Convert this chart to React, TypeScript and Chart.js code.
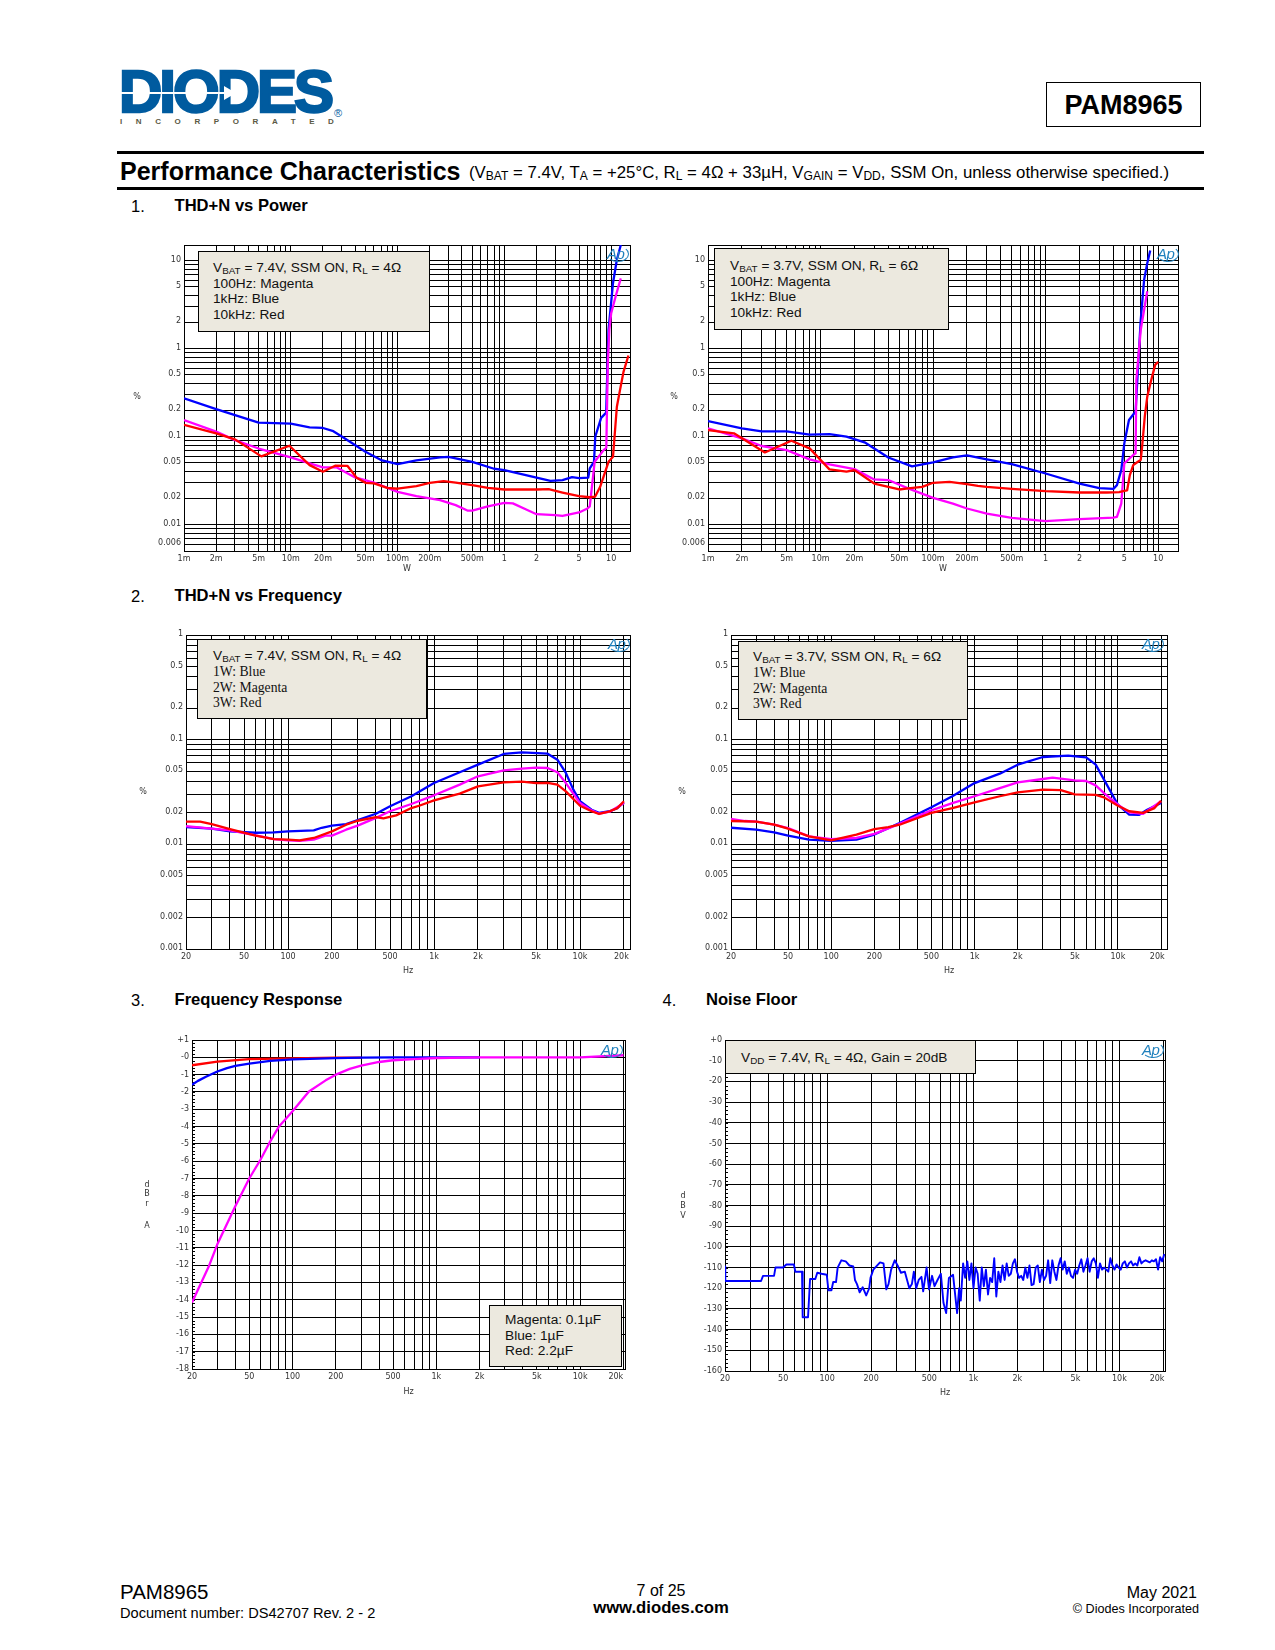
import React, { useEffect, useRef } from "react";
import { Chart, registerables } from "chart.js";

Chart.register(...registerables);

// ---------- tick labels ----------
const POWER_TICK_VALUES = [0.001, 0.002, 0.005, 0.01, 0.02, 0.05, 0.1, 0.2, 0.5, 1, 2, 5, 10];
const POWER_TICK_LABELS = ["1m", "2m", "5m", "10m", "20m", "50m", "100m", "200m", "500m", "1", "2", "5", "10"];
const FREQ_TICK_VALUES = [20, 50, 100, 200, 500, 1000, 2000, 5000, 10000, 20000];
const FREQ_TICK_LABELS = ["20", "50", "100", "200", "500", "1k", "2k", "5k", "10k", "20k"];
const THD_POWER_Y_VALUES = [10, 5, 2, 1, 0.5, 0.2, 0.1, 0.05, 0.02, 0.01, 0.006];
const THD_POWER_Y_LABELS = ["10", "5", "2", "1", "0.5", "0.2", "0.1", "0.05", "0.02", "0.01", "0.006"];
const THD_FREQ_Y_VALUES = [1, 0.5, 0.2, 0.1, 0.05, 0.02, 0.01, 0.005, 0.002, 0.001];
const THD_FREQ_Y_LABELS = ["1", "0.5", "0.2", "0.1", "0.05", "0.02", "0.01", "0.005", "0.002", "0.001"];
const RESP_Y_VALUES = [1, 0, -1, -2, -3, -4, -5, -6, -7, -8, -9, -10, -11, -12, -13, -14, -15, -16, -17, -18];
const RESP_Y_LABELS = ["+1", "-0", "-1", "-2", "-3", "-4", "-5", "-6", "-7", "-8", "-9", "-10", "-11", "-12", "-13", "-14", "-15", "-16", "-17", "-18"];
const NOISE_Y_VALUES = [0, -10, -20, -30, -40, -50, -60, -70, -80, -90, -100, -110, -120, -130, -140, -150, -160];
const NOISE_Y_LABELS = ["+0", "-10", "-20", "-30", "-40", "-50", "-60", "-70", "-80", "-90", "-100", "-110", "-120", "-130", "-140", "-150", "-160"];

// ---------- chart 1: THD+N vs power, 7.4V ----------
const C1_BLUE_W = [0.001, 0.002, 0.005, 0.01, 0.015, 0.02, 0.025, 0.03, 0.05, 0.07, 0.1, 0.15, 0.25, 0.3, 0.5, 0.8, 1, 2, 2.7, 3.5, 4.3, 5, 6.1, 6.3, 6.9, 7.1, 8.05, 8.97, 9.44, 10.4, 11.3, 12.3];
const C1_BLUE_PCT = [0.272, 0.205, 0.1436, 0.14, 0.127, 0.125, 0.115, 0.1, 0.067, 0.054, 0.0485, 0.0537, 0.0578, 0.0587, 0.0516, 0.043, 0.0415, 0.034, 0.0314, 0.032, 0.0345, 0.0337, 0.0341, 0.0435, 0.0516, 0.1, 0.163, 0.187, 1.63, 5.55, 10.2, 15];
const C1_MAGENTA_W = [0.001, 0.002, 0.003, 0.005, 0.01, 0.015, 0.02, 0.027, 0.04, 0.06, 0.1, 0.15, 0.25, 0.35, 0.45, 0.5, 0.7, 1, 1.2, 1.6, 2, 3, 3.5, 5, 6, 6.3, 6.6, 7, 8.5, 9, 9.3, 9.6, 10, 11, 12.3];
const C1_MAGENTA_PCT = [0.154, 0.1135, 0.091, 0.073, 0.0578, 0.0494, 0.0445, 0.0445, 0.0343, 0.03, 0.0235, 0.021, 0.0189, 0.0166, 0.0144, 0.0144, 0.0161, 0.0176, 0.0174, 0.0148, 0.0131, 0.0128, 0.0125, 0.0137, 0.0152, 0.0161, 0.0268, 0.0516, 0.0701, 0.0745, 0.68, 1.63, 2.52, 3.9, 6.27];
const C1_RED_W = [0.001, 0.002, 0.003, 0.0053, 0.0097, 0.015, 0.02, 0.026, 0.034, 0.0413, 0.05, 0.06, 0.08, 0.1, 0.15, 0.2, 0.27, 0.35, 0.5, 0.7, 1, 2, 2.6, 3.5, 5, 6.3, 7.08, 7.88, 9.44, 10.4, 11.3, 12.1, 13.06, 14.5];
const C1_RED_PCT = [0.136, 0.1086, 0.0927, 0.0595, 0.0785, 0.0473, 0.0398, 0.0465, 0.0463, 0.034, 0.0298, 0.0293, 0.0261, 0.0255, 0.0273, 0.0298, 0.0311, 0.03, 0.028, 0.0261, 0.025, 0.025, 0.0252, 0.0231, 0.021, 0.0204, 0.0208, 0.0268, 0.0516, 0.0589, 0.218, 0.339, 0.547, 0.832];

// ---------- chart 2: THD+N vs power, 3.7V ----------
const C2_BLUE_W = [0.001, 0.002, 0.003, 0.005, 0.008, 0.012, 0.017, 0.025, 0.04, 0.065, 0.1, 0.15, 0.2, 0.3, 0.5, 1, 2, 3, 4, 4.3, 4.7, 5, 5.5, 6.3, 6.6, 7, 7.5, 8, 8.5];
const C2_BLUE_PCT = [0.15, 0.124, 0.1145, 0.1145, 0.105, 0.1065, 0.0995, 0.085, 0.0578, 0.0457, 0.0507, 0.0578, 0.061, 0.055, 0.0485, 0.038, 0.0292, 0.0259, 0.0254, 0.028, 0.0415, 0.0835, 0.154, 0.192, 0.571, 2.12, 6.05, 9.33, 13];
const C2_MAGENTA_W = [0.001, 0.002, 0.003, 0.005, 0.008, 0.012, 0.02, 0.03, 0.04, 0.06, 0.1, 0.15, 0.2, 0.3, 0.5, 1, 2, 4, 4.3, 4.7, 5, 6, 6.3, 6.4, 7, 8];
const C2_MAGENTA_PCT = [0.124, 0.0953, 0.078, 0.0701, 0.055, 0.0482, 0.0426, 0.0325, 0.032, 0.0257, 0.0201, 0.0173, 0.0152, 0.0133, 0.0119, 0.0109, 0.0115, 0.012, 0.0122, 0.0173, 0.0494, 0.0616, 0.0643, 0.44, 1.63, 4.47];
const C2_RED_W = [0.001, 0.0017, 0.0032, 0.0055, 0.008, 0.012, 0.017, 0.02, 0.03, 0.05, 0.06, 0.08, 0.1, 0.14, 0.2, 0.25, 0.3, 0.5, 1, 2, 3.5, 4.5, 5, 5.3, 5.6, 6, 6.6, 7, 7.2, 7.6, 8, 8.6, 9.4, 10];
const C2_RED_PCT = [0.1185, 0.1086, 0.0659, 0.0895, 0.0733, 0.0423, 0.0398, 0.0415, 0.0292, 0.025, 0.0257, 0.0268, 0.0298, 0.0305, 0.0288, 0.0275, 0.0268, 0.0254, 0.0239, 0.0231, 0.0231, 0.0233, 0.0241, 0.0245, 0.0364, 0.0473, 0.0516, 0.0543, 0.0766, 0.168, 0.284, 0.42, 0.652, 0.705];

// ---------- chart 3: THD+N vs frequency, 7.4V ----------
const C3_BLUE_HZ = [20, 30, 40, 60, 80, 100, 150, 170, 200, 250, 300, 400, 500, 700, 1000, 1500, 2000, 3000, 4000, 6000, 7000, 8000, 9000, 10000, 12000, 13500, 16000, 18000, 20000];
const C3_BLUE_PCT = [0.01465, 0.0141, 0.0133, 0.0129, 0.013, 0.0133, 0.0136, 0.0144, 0.0151, 0.0156, 0.017, 0.0196, 0.0231, 0.0288, 0.0385, 0.0488, 0.0577, 0.073, 0.0757, 0.0735, 0.0644, 0.0481, 0.0333, 0.0258, 0.0214, 0.02, 0.0207, 0.0222, 0.0252];
const C3_MAGENTA_HZ = [20, 30, 40, 60, 80, 100, 120, 150, 180, 200, 250, 300, 400, 500, 700, 1000, 1500, 2000, 3000, 4000, 5000, 6000, 7000, 8000, 10000, 12000, 13500, 16000, 20000];
const C3_MAGENTA_PCT = [0.0149, 0.0141, 0.0136, 0.0122, 0.0112, 0.0109, 0.0108, 0.0111, 0.0121, 0.0121, 0.0138, 0.0151, 0.0179, 0.0207, 0.0243, 0.0294, 0.0372, 0.0447, 0.0509, 0.0528, 0.054, 0.0536, 0.0488, 0.0385, 0.0248, 0.0211, 0.0196, 0.0205, 0.0248];
const C3_RED_HZ = [20, 25, 30, 40, 60, 80, 100, 120, 150, 200, 250, 300, 400, 450, 550, 700, 800, 1000, 1500, 2000, 3000, 4000, 5000, 6000, 7000, 8000, 10000, 12000, 13500, 16000, 18000, 20000];
const C3_RED_PCT = [0.0165, 0.0165, 0.0156, 0.014, 0.0121, 0.0112, 0.0111, 0.0109, 0.0115, 0.0133, 0.0154, 0.0168, 0.0182, 0.0177, 0.0189, 0.0222, 0.0235, 0.0263, 0.0305, 0.0358, 0.0391, 0.0397, 0.0385, 0.0387, 0.0372, 0.0321, 0.0234, 0.0207, 0.0195, 0.0207, 0.0222, 0.0258];

// ---------- chart 4: THD+N vs frequency, 3.7V ----------
const C4_BLUE_HZ = [20, 30, 40, 50, 70, 100, 150, 200, 300, 500, 700, 1000, 1500, 2000, 3000, 4500, 6000, 7000, 8000, 10000, 12000, 14000, 16000, 20000];
const C4_BLUE_PCT = [0.0144, 0.0138, 0.013, 0.0121, 0.0111, 0.0108, 0.0111, 0.0124, 0.016, 0.0226, 0.0288, 0.0385, 0.0473, 0.0577, 0.0683, 0.0703, 0.0677, 0.0577, 0.0415, 0.0239, 0.0192, 0.0191, 0.0214, 0.0248];
const C4_MAGENTA_HZ = [20, 25, 30, 40, 50, 70, 100, 150, 200, 300, 500, 700, 1000, 1500, 2000, 3000, 3500, 5000, 6000, 7000, 8000, 10000, 12000, 15000, 20000];
const C4_MAGENTA_PCT = [0.0175, 0.0167, 0.0165, 0.0154, 0.0143, 0.0119, 0.0112, 0.0115, 0.0126, 0.0157, 0.0211, 0.0248, 0.0288, 0.0345, 0.0391, 0.0421, 0.0433, 0.0408, 0.0403, 0.0366, 0.0309, 0.0239, 0.0202, 0.0196, 0.0258];
const C4_RED_HZ = [20, 30, 40, 50, 70, 100, 150, 200, 250, 300, 500, 700, 1000, 1500, 2000, 3000, 4000, 5000, 7000, 8000, 10000, 12000, 15000, 18000, 20000];
const C4_RED_PCT = [0.0167, 0.0165, 0.0154, 0.0141, 0.0119, 0.0109, 0.0124, 0.014, 0.0146, 0.0154, 0.02, 0.0222, 0.0252, 0.0288, 0.0314, 0.0333, 0.0329, 0.03, 0.0297, 0.0281, 0.0234, 0.0207, 0.02, 0.0222, 0.0261];

// ---------- chart 5: frequency response ----------
const C5_RED_HZ = [20, 30, 50, 100, 200, 300];
const C5_RED_DB = [-0.46, -0.25, -0.1, -0.06, -0.02, -0.02];
const C5_BLUE_HZ = [20, 22, 25, 30, 35, 40, 50, 70, 100, 200, 300, 500, 2000];
const C5_BLUE_DB = [-1.58, -1.36, -1.12, -0.82, -0.62, -0.5, -0.36, -0.2, -0.12, -0.05, -0.02, 0, 0];
const C5_MAGENTA_HZ = [20, 26.1, 30, 40, 50, 60, 70, 80, 100, 130, 170, 200, 250, 300, 400, 500, 700, 1000, 2000, 10000, 20000];
const C5_MAGENTA_DB = [-14.16, -12.1, -10.8, -8.6, -7, -5.9, -4.85, -4.03, -3.12, -1.97, -1.33, -1, -0.67, -0.48, -0.27, -0.17, -0.1, -0.04, 0, 0, 0.12];

// ---------- chart 6: noise floor ----------
const C6_LOW_HZ = [20, 20.1, 35.3, 36.4, 43.3, 44.3, 49.9, 52.6, 59.2, 60.6, 67.3, 68, 74, 76.4, 83, 85.6, 91.5, 99.4, 102, 107, 110, 115, 118, 125, 134, 142, 151, 155, 160, 167, 175, 185, 194, 198, 207, 230, 243, 254, 263, 274, 290, 306, 320, 340, 365, 380, 392, 407, 423, 442, 454, 479, 498, 522, 543, 569, 600, 625, 652, 681, 727, 775, 800, 821];
const C6_LOW_DB = [-109.5, -116.5, -116.5, -114, -114, -110, -110, -108.5, -108.5, -112, -112, -134, -134, -115.5, -115.5, -112.5, -113, -113.5, -121, -121, -117, -117, -110, -106.5, -107, -109, -109.5, -116, -118, -122, -119.5, -123.5, -120, -115, -111, -107.5, -108, -120.5, -118, -111, -106.5, -109.5, -112.5, -112, -120, -118, -112, -120, -116, -114.5, -121.5, -110, -120.5, -114, -119, -116, -113, -127, -132, -115, -113.5, -132, -120, -126];
const C6_HIGH_HZ = [852, 880, 910, 940, 971, 1003, 1037, 1071, 1107, 1143, 1181, 1220, 1261, 1303, 1346, 1391, 1437, 1485, 1534, 1585, 1638, 1692, 1748, 1806, 1866, 1928, 1992, 2058, 2127, 2197, 2270, 2346, 2424, 2504, 2587, 2673, 2762, 2854, 2949, 3047, 3148, 3252, 3360, 3472, 3587, 3706, 3829, 3957, 4088, 4224, 4364, 4509, 4659, 4813, 4973, 5138, 5309, 5485, 5667, 5856, 6050, 6251, 6459, 6673, 6895, 7124, 7360, 7605, 7857, 8118, 8388, 8667, 8954, 9251, 9559, 9876, 10204, 10543, 10893, 11255, 11629, 12015, 12414, 12827, 13253, 13693, 14148, 14618, 15103, 15605, 16123, 16659, 17212, 17784, 18375, 18985, 19616, 20267];
const C6_HIGH_DB = [-108, -115, -107, -116, -108, -120, -110, -113, -126, -110, -119, -111, -123, -115, -117, -105.5, -124, -112, -117, -109, -116, -108, -114, -113, -108, -106, -112, -115, -114, -116, -110, -115, -109, -118.5, -118, -110, -109, -117, -111, -116, -114, -106.5, -117.5, -106.5, -112, -116, -109, -105.5, -111, -107, -113, -110, -114, -115, -111, -113, -109, -106, -112, -109, -105.5, -112, -107, -105.5, -108, -115, -108, -111, -110, -111, -112, -105.5, -109, -111, -108.5, -110, -111, -108, -107, -110, -108, -107, -109, -108, -109, -105, -108, -107, -106.5, -107, -107.5, -106.5, -107, -106, -111, -105, -107, -103.5];

// ---------- helpers ----------
const BLUE = "#0000ff";
const MAGENTA = "#ff00ff";
const RED = "#ff0000";
const SANS = '"Liberation Sans", Arial, sans-serif';
const SERIF = '"Liberation Serif", "Times New Roman", serif';
const LEFT_M = 60;
const TOP_M = 8;
const RIGHT_M = 20;
const BOTTOM_M = 30;
const NOTE_SIZE = 13.7;

const zip = (xs: number[], ys: number[]) => xs.map((x, i) => ({ x, y: ys[i] }));
const line = (label: string, color: string, xs: number[], ys: number[], width = 2.3) => ({
  label,
  data: zip(xs, ys),
  borderColor: color,
  backgroundColor: color,
  borderWidth: width,
  pointRadius: 0,
  tension: 0,
  fill: false,
  borderJoinStyle: "round" as const,
});

function logTicks(min: number, max: number) {
  const vals = new Set<number>([min, max]);
  for (let e = -5; e <= 5; e++) {
    for (let m = 1; m <= 9; m++) {
      const v = parseFloat(`${m}e${e}`);
      if (v > min && v < max) vals.add(v);
    }
  }
  return [...vals].sort((a, b) => a - b).map((value) => ({ value }));
}

function labelFor(values: number[], labels: string[]) {
  return (v: any) => {
    const i = values.findIndex((t) => Math.abs(t - Number(v)) < Math.abs(t) * 1e-6 + 1e-9);
    return i >= 0 ? labels[i] : "";
  };
}

// the last frequency label sits left of its grid line: trailing spaces shift the centred text
const shiftLast = (labels: string[], spaces: number) =>
  labels.map((s, i) => (i === labels.length - 1 ? s + " ".repeat(spaces) : s));

type Rect = { l: number; t: number; r: number; b: number };

type PanelCfg = {
  rect: Rect;
  datasets: any[];
  xMin: number;
  xMax: number;
  xValues: number[];
  xLabels: string[];
  xTitle: string;
  xTitleGap: number;
  yType: "logarithmic" | "linear";
  yMin: number;
  yMax: number;
  yValues: number[];
  yLabels: string[];
  yLabelOffset: number;
  minorStep?: number;
};

function Panel({ cfg }: { cfg: PanelCfg }) {
  const ref = useRef<HTMLCanvasElement | null>(null);
  const { rect } = cfg;
  const w = rect.r - rect.l + LEFT_M + RIGHT_M;
  const h = rect.b - rect.t + TOP_M + BOTTOM_M;
  useEffect(() => {
    if (!ref.current) return;
    const tickFont = { family: '"DejaVu Sans"', size: 8 };
    const minorPlugin = {
      id: "minorTicks",
      beforeDatasetsDraw(chart: any) {
        if (!cfg.minorStep) return;
        const { ctx, scales } = chart;
        const y = scales.y;
        ctx.save();
        ctx.strokeStyle = "#000";
        ctx.lineWidth = 1;
        ctx.beginPath();
        const n = Math.round((cfg.yMax - cfg.yMin) / cfg.minorStep);
        for (let i = 0; i <= n; i++) {
          const p = Math.round(y.getPixelForValue(cfg.yMin + i * cfg.minorStep)) + 0.5;
          ctx.moveTo(chart.chartArea.left, p);
          ctx.lineTo(chart.chartArea.left + 3, p);
        }
        ctx.stroke();
        ctx.restore();
      },
    };
    const chart = new Chart(ref.current, {
      type: "line",
      data: { datasets: cfg.datasets },
      plugins: [minorPlugin],
      options: {
        animation: false,
        responsive: false,
        maintainAspectRatio: false,
        devicePixelRatio: 1,
        parsing: false,
        normalized: false,
        layout: { padding: { top: TOP_M, right: RIGHT_M, left: 0, bottom: 0 } },
        plugins: { legend: { display: false }, tooltip: { enabled: false }, title: { display: false } },
        scales: {
          x: {
            type: "logarithmic",
            min: cfg.xMin,
            max: cfg.xMax,
            afterBuildTicks: (s: any) => {
              s.ticks = logTicks(cfg.xMin, cfg.xMax);
            },
            afterFit: (s: any) => {
              s.height = BOTTOM_M;
            },
            border: { display: true, color: "#000", width: 1 },
            grid: { color: "#000", lineWidth: 1, drawTicks: false },
            ticks: {
              autoSkip: false,
              maxRotation: 0,
              minRotation: 0,
              padding: 3,
              color: "#333",
              font: tickFont,
              callback: labelFor(cfg.xValues, cfg.xLabels),
            },
            title: {
              display: true,
              text: cfg.xTitle,
              color: "#333",
              font: tickFont,
              padding: { top: 0, bottom: BOTTOM_M - cfg.xTitleGap - 4.8 },
            },
          },
          y: {
            type: cfg.yType,
            min: cfg.yMin,
            max: cfg.yMax,
            afterBuildTicks: (s: any) => {
              s.ticks =
                cfg.yType === "logarithmic"
                  ? logTicks(cfg.yMin, cfg.yMax)
                  : cfg.yValues.map((value) => ({ value })).sort((a, b) => a.value - b.value);
            },
            afterFit: (s: any) => {
              s.width = LEFT_M;
            },
            border: { display: true, color: "#000", width: 1 },
            grid: { color: "#000", lineWidth: 1, drawTicks: false },
            ticks: {
              autoSkip: false,
              padding: 3,
              color: "#333",
              font: tickFont,
              labelOffset: cfg.yLabelOffset,
              callback: labelFor(cfg.yValues, cfg.yLabels),
            },
          },
        },
      } as any,
    } as any);
    return () => chart.destroy();
  }, []);
  return (
    <canvas
      ref={ref}
      width={w}
      height={h}
      style={{ position: "absolute", left: rect.l - LEFT_M, top: rect.t - TOP_M, width: w, height: h, display: "block" }}
    />
  );
}

function Txt({
  x,
  base,
  size,
  bold,
  align,
  color,
  family,
  spacing,
  children,
}: {
  x: number;
  base: number;
  size: number;
  bold?: boolean;
  align?: "left" | "center" | "right";
  color?: string;
  family?: string;
  spacing?: number;
  children: React.ReactNode;
}) {
  const tx = align === "center" ? "translateX(-50%)" : align === "right" ? "translateX(-100%)" : "none";
  return (
    <div
      style={{
        position: "absolute",
        left: x,
        top: base - 0.8465 * size,
        fontFamily: family || SANS,
        fontSize: size,
        lineHeight: `${size}px`,
        fontWeight: bold ? 700 : 400,
        color: color || "#000",
        whiteSpace: "pre",
        transform: tx,
        letterSpacing: spacing,
      }}
    >
      {children}
    </div>
  );
}

const Sub = ({ children }: { children: React.ReactNode }) => (
  <span style={{ fontSize: "0.72em", position: "relative", top: "0.18em" }}>{children}</span>
);

function Note({
  l,
  t,
  r,
  b,
  tx,
  bases,
  lines,
  families,
}: {
  l: number;
  t: number;
  r: number;
  b: number;
  tx: number;
  bases: number[];
  lines: React.ReactNode[];
  families?: string[];
}) {
  return (
    <>
      <div
        style={{
          position: "absolute",
          left: l,
          top: t,
          width: r - l,
          height: b - t,
          boxSizing: "border-box",
          background: "#ece9df",
          border: "1px solid #000",
          borderRightWidth: 1.5,
          borderBottomWidth: 1.5,
        }}
      />
      {lines.map((ln, i) => (
        <Txt key={i} x={tx} base={bases[i]} size={NOTE_SIZE} family={families ? families[i] : SANS} color="#111">
          {ln}
        </Txt>
      ))}
    </>
  );
}

function ApMark({ x, y }: { x: number; y: number }) {
  return (
    <div style={{ position: "absolute", left: x - 12, top: y - 8, width: 24, height: 16 }}>
      <div
        style={{
          position: "absolute",
          left: 2,
          top: 0,
          width: 22,
          height: 16,
          boxSizing: "border-box",
          borderRadius: "50%",
          border: "1.6px solid transparent",
          borderRightColor: "#1f80bd",
          borderBottomColor: "#1f80bd",
        }}
      />
      <div
        style={{
          position: "absolute",
          left: 2,
          top: 0,
          fontFamily: SANS,
          fontStyle: "italic",
          fontSize: 15,
          lineHeight: "15px",
          letterSpacing: -0.5,
          color: "#1f80bd",
        }}
      >
        Ap
      </div>
    </div>
  );
}

function Unit({ x, ys, letters }: { x: number; ys: number[]; letters: string[] }) {
  return (
    <>
      {letters.map((c, i) => (
        <div
          key={i}
          style={{
            position: "absolute",
            left: x,
            top: ys[i] - 5,
            transform: "translateX(-50%)",
            fontFamily: '"DejaVu Sans"',
            fontSize: 8,
            lineHeight: "10px",
            color: "#333",
          }}
        >
          {c}
        </div>
      ))}
    </>
  );
}

// ---------- the six panels ----------
const FREQ_MAX_WIDE = 22000;
const FREQ_MAX_NARROW = 20500;

const PANELS: PanelCfg[] = [
  {
    rect: { l: 184, t: 245, r: 630, b: 551 },
    datasets: [
      line("10kHz", RED, C1_RED_W, C1_RED_PCT),
      line("100Hz", MAGENTA, C1_MAGENTA_W, C1_MAGENTA_PCT),
      line("1kHz", BLUE, C1_BLUE_W, C1_BLUE_PCT),
    ],
    xMin: 0.001, xMax: 15, xValues: POWER_TICK_VALUES, xLabels: POWER_TICK_LABELS, xTitle: "W", xTitleGap: 18,
    yType: "logarithmic", yMin: 0.005, yMax: 15, yValues: THD_POWER_Y_VALUES, yLabels: THD_POWER_Y_LABELS, yLabelOffset: -1,
  },
  {
    rect: { l: 708, t: 245, r: 1178, b: 551 },
    datasets: [
      line("10kHz", RED, C2_RED_W, C2_RED_PCT),
      line("100Hz", MAGENTA, C2_MAGENTA_W, C2_MAGENTA_PCT),
      line("1kHz", BLUE, C2_BLUE_W, C2_BLUE_PCT),
    ],
    xMin: 0.001, xMax: 15, xValues: POWER_TICK_VALUES, xLabels: POWER_TICK_LABELS, xTitle: "W", xTitleGap: 18,
    yType: "logarithmic", yMin: 0.005, yMax: 15, yValues: THD_POWER_Y_VALUES, yLabels: THD_POWER_Y_LABELS, yLabelOffset: -1,
  },
  {
    rect: { l: 186, t: 635, r: 630, b: 949 },
    datasets: [
      line("3W", RED, C3_RED_HZ, C3_RED_PCT),
      line("2W", MAGENTA, C3_MAGENTA_HZ, C3_MAGENTA_PCT),
      line("1W", BLUE, C3_BLUE_HZ, C3_BLUE_PCT),
    ],
    xMin: 20, xMax: FREQ_MAX_WIDE, xValues: FREQ_TICK_VALUES, xLabels: shiftLast(FREQ_TICK_LABELS, 2), xTitle: "Hz", xTitleGap: 22,
    yType: "logarithmic", yMin: 0.001, yMax: 1, yValues: THD_FREQ_Y_VALUES, yLabels: THD_FREQ_Y_LABELS, yLabelOffset: -1,
  },
  {
    rect: { l: 731, t: 635, r: 1167, b: 949 },
    datasets: [
      line("3W", RED, C4_RED_HZ, C4_RED_PCT),
      line("2W", MAGENTA, C4_MAGENTA_HZ, C4_MAGENTA_PCT),
      line("1W", BLUE, C4_BLUE_HZ, C4_BLUE_PCT),
    ],
    xMin: 20, xMax: FREQ_MAX_WIDE, xValues: FREQ_TICK_VALUES, xLabels: shiftLast(FREQ_TICK_LABELS, 3), xTitle: "Hz", xTitleGap: 22,
    yType: "logarithmic", yMin: 0.001, yMax: 1, yValues: THD_FREQ_Y_VALUES, yLabels: THD_FREQ_Y_LABELS, yLabelOffset: -1,
  },
  {
    rect: { l: 192, t: 1040, r: 625, b: 1369 },
    datasets: [
      line("0.1uF", MAGENTA, C5_MAGENTA_HZ, C5_MAGENTA_DB),
      line("1uF", BLUE, C5_BLUE_HZ, C5_BLUE_DB),
      line("2.2uF", RED, C5_RED_HZ, C5_RED_DB),
    ],
    xMin: 20, xMax: FREQ_MAX_NARROW, xValues: FREQ_TICK_VALUES, xLabels: shiftLast(FREQ_TICK_LABELS, 6), xTitle: "Hz", xTitleGap: 23,
    yType: "linear", yMin: -18, yMax: 1, yValues: RESP_Y_VALUES, yLabels: RESP_Y_LABELS, yLabelOffset: 0, minorStep: 0.2,
  },
  {
    rect: { l: 725, t: 1040, r: 1165, b: 1371 },
    datasets: [line("Noise", BLUE, [...C6_LOW_HZ, ...C6_HIGH_HZ], [...C6_LOW_DB, ...C6_HIGH_DB], 1.9)],
    xMin: 20, xMax: FREQ_MAX_NARROW, xValues: FREQ_TICK_VALUES, xLabels: shiftLast(FREQ_TICK_LABELS, 5), xTitle: "Hz", xTitleGap: 22,
    yType: "linear", yMin: -160, yMax: 0, yValues: NOISE_Y_VALUES, yLabels: NOISE_Y_LABELS, yLabelOffset: 0, minorStep: 2,
  },
];

export default function App() {
  return (
    <div style={{ position: "absolute", left: 0, top: 0, width: 1275, height: 1650, background: "#fff", overflow: "hidden" }}>
      {/* logo */}
      <div
        style={{
          position: "absolute",
          left: 119,
          top: 62,
          fontFamily: SANS,
          fontWeight: 700,
          fontSize: 60,
          lineHeight: "60px",
          letterSpacing: -3,
          color: "#005b9f",
          WebkitTextStroke: "2.4px #005b9f",
        }}
      >
        DIODES
      </div>
      <div style={{ position: "absolute", left: 118, top: 92, width: 108, height: 2, background: "#fff" }} />
      <div
        style={{
          position: "absolute",
          left: 224,
          top: 86,
          width: 12,
          height: 14,
          background: "#fff",
          clipPath: "polygon(0 0, 100% 50%, 0 100%)",
        }}
      />
      <Txt x={120} base={124.5} size={8} bold color="#5b5a45" spacing={13.6}>INCORPORATED</Txt>
      <Txt x={334} base={117} size={11} color="#005b9f">®</Txt>
      <div
        style={{
          position: "absolute",
          left: 1046,
          top: 82,
          width: 155,
          height: 45,
          boxSizing: "border-box",
          border: "1.5px solid #000",
        }}
      />
      <Txt x={1123.5} base={114.5} size={27} bold align="center">PAM8965</Txt>

      {/* heading */}
      <div style={{ position: "absolute", left: 117, top: 151, width: 1087, height: 3, background: "#000" }} />
      <div style={{ position: "absolute", left: 117, top: 187, width: 1087, height: 3, background: "#000" }} />
      <Txt x={120} base={180} size={25} bold>Performance Characteristics</Txt>
      <Txt x={469} base={179} size={16.8}>
        (V<Sub>BAT</Sub> = 7.4V, T<Sub>A</Sub> = +25°C, R<Sub>L</Sub> = 4Ω + 33µH, V<Sub>GAIN</Sub> = V<Sub>DD</Sub>, SSM On, unless otherwise specified.)
      </Txt>

      {/* section titles */}
      <Txt x={131} base={212} size={16.5}>1.</Txt>
      <Txt x={174.5} base={212} size={16.6} bold>THD+N vs Power</Txt>
      <Txt x={131} base={602} size={16.5}>2.</Txt>
      <Txt x={174.5} base={602} size={16.6} bold>THD+N vs Frequency</Txt>
      <Txt x={131} base={1006} size={16.5}>3.</Txt>
      <Txt x={174.5} base={1006} size={16.6} bold>Frequency Response</Txt>
      <Txt x={662.5} base={1006} size={16.5}>4.</Txt>
      <Txt x={706} base={1006} size={16.6} bold>Noise Floor</Txt>

      {PANELS.map((cfg, i) => (
        <Panel key={i} cfg={cfg} />
      ))}

      {/* y units */}
      <Unit x={137} ys={[397]} letters={["%"]} />
      <Unit x={674} ys={[397]} letters={["%"]} />
      <Unit x={143} ys={[792]} letters={["%"]} />
      <Unit x={682} ys={[792]} letters={["%"]} />
      <Unit x={147} ys={[1185, 1194, 1204, 1226]} letters={["d", "B", "r", "A"]} />
      <Unit x={683} ys={[1196, 1206, 1216]} letters={["d", "B", "V"]} />

      {/* notes */}
      <Note
        l={198} t={251} r={430} b={332} tx={213} bases={[273, 289, 304, 320]}
        lines={[<>V<Sub>BAT</Sub> = 7.4V, SSM ON, R<Sub>L</Sub> = 4Ω</>, "100Hz: Magenta", "1kHz: Blue", "10kHz: Red"]}
      />
      <Note
        l={714} t={248} r={949} b={330} tx={730} bases={[271, 287, 302, 318]}
        lines={[<>V<Sub>BAT</Sub> = 3.7V, SSM ON, R<Sub>L</Sub> = 6Ω</>, "100Hz: Magenta", "1kHz: Blue", "10kHz: Red"]}
      />
      <Note
        l={197} t={639} r={427} b={719} tx={213} bases={[661, 677, 693, 708]}
        families={[SANS, SERIF, SERIF, SERIF]}
        lines={[<>V<Sub>BAT</Sub> = 7.4V, SSM ON, R<Sub>L</Sub> = 4Ω</>, "1W: Blue", "2W: Magenta", "3W: Red"]}
      />
      <Note
        l={738} t={641} r={968} b={720} tx={753} bases={[662, 678, 694, 709]}
        families={[SANS, SERIF, SERIF, SERIF]}
        lines={[<>V<Sub>BAT</Sub> = 3.7V, SSM ON, R<Sub>L</Sub> = 6Ω</>, "1W: Blue", "2W: Magenta", "3W: Red"]}
      />
      <Note
        l={489} t={1305} r={622} b={1367} tx={505} bases={[1325, 1341, 1356]}
        lines={["Magenta: 0.1µF", "Blue: 1µF", "Red: 2.2µF"]}
      />
      <Note
        l={725} t={1040} r={976} b={1074} tx={741} bases={[1063]}
        lines={[<>V<Sub>DD</Sub> = 7.4V, R<Sub>L</Sub> = 4Ω, Gain = 20dB</>]}
      />

      <ApMark x={617} y={254} />
      <ApMark x={1167} y={254} />
      <ApMark x={618} y={644} />
      <ApMark x={1152} y={644} />
      <ApMark x={611} y={1050} />
      <ApMark x={1152} y={1050} />

      {/* footer */}
      <Txt x={120} base={1599} size={20.5}>PAM8965</Txt>
      <Txt x={120} base={1618} size={14.6}>Document number: DS42707 Rev. 2 - 2</Txt>
      <Txt x={661} base={1597} size={16} align="center">7 of 25</Txt>
      <Txt x={661} base={1614} size={16.7} bold align="center">www.diodes.com</Txt>
      <Txt x={1197} base={1598.5} size={16} align="right">May 2021</Txt>
      <Txt x={1199} base={1614} size={12.6} align="right">© Diodes Incorporated</Txt>
    </div>
  );
}
